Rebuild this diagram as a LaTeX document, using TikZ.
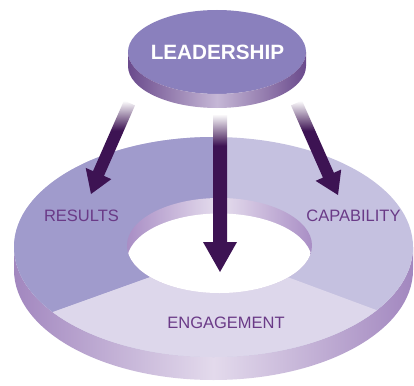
\documentclass[tikz,border=0pt]{standalone}
\usepackage{fontspec}
\setmainfont{Liberation Sans}
\usetikzlibrary{calc}

\definecolor{leadtop}{HTML}{8A80BD}
\definecolor{leadside}{HTML}{6A4A8C}
\definecolor{leadmid}{HTML}{C5B7D6}
\definecolor{resc}{HTML}{A09BCC}
\definecolor{capc}{HTML}{C5C1E0}
\definecolor{engc}{HTML}{DDD7EB}
\definecolor{ringside}{HTML}{A287BF}
\definecolor{ringmid}{HTML}{E3DAEC}
\definecolor{wallc}{HTML}{A98EC5}
\definecolor{wallmid}{HTML}{E6DEEE}
\definecolor{labelc}{HTML}{6A3A87}
\definecolor{arrowc}{HTML}{3D1353}

\pgfdeclareverticalshading{fadelong}{100bp}{color(0bp)=(arrowc); color(25bp)=(arrowc); color(65bp)=(arrowc); color(75bp)=(white); color(100bp)=(white)}
\pgfdeclareverticalshading{fadeshort}{100bp}{color(0bp)=(arrowc); color(25bp)=(arrowc); color(59bp)=(arrowc); color(75bp)=(white); color(100bp)=(white)}

\tikzset{
  leadtext/.style={inner sep=0pt, text=white, font=\fontsize{20.7}{22}\selectfont\bfseries},
  seglabel/.style={inner sep=0pt, text=labelc, font=\fontsize{16.5}{18}\selectfont},
}

\begin{document}
\begin{tikzpicture}[x=1pt,y=-1pt]
  \fill [white] (0,0) rectangle (414,385);
  \useasboundingbox (0,0) rectangle (414,385);
  % leadership disc
  \fill [leadtop] (217,52) ellipse [x radius=89, y radius=42];
  \shade [left color=leadside, right color=leadside, middle color=leadmid]
    (306,52) -- (306,66) arc [start angle=0, end angle=180, x radius=89, y radius=42]
    -- (128,52) arc [start angle=180, end angle=0, x radius=89, y radius=42] -- cycle;
  \node [leadtext] (leadership) at (217.5,52.5) {LEADERSHIP};
  % ring
  \shade [left color=ringside, right color=ringside, middle color=ringmid]
    (413,247) -- (413,270) arc [start angle=0, end angle=180, x radius=199.5, y radius=110]
    -- (14,247) arc [start angle=180, end angle=0, x radius=199.5, y radius=110] -- cycle;
  \begin{scope}
    \clip (213.5,247) ellipse [x radius=199.5, y radius=110];
    \fill [capc] (0,130) rectangle (414,360);
    \fill [resc] (220,252) -- (220,130) -- (0,130) -- (0,331) -- cycle;
    \fill [engc] (220,252) -- (0,331) -- (0,360) -- (414,360) -- (414,324) -- cycle;
  \end{scope}
  % hole
  \shade [left color=wallc, right color=wallc, middle color=wallmid]
    (219.5,245.5) ellipse [x radius=92.5, y radius=47.5];
  \begin{scope}
    \clip (219.5,245.5) ellipse [x radius=92.5, y radius=47.5];
    \fill [white] (219.5,261) ellipse [x radius=92.5, y radius=47.5];
  \end{scope}
  \node [seglabel] (results) at (81.5,216) {RESULTS};
  \node [seglabel] (capability) at (353.5,216) {CAPABILITY};
  \node [seglabel] (engagement) at (226,323) {ENGAGEMENT};
  % arrows
  \coordinate (lt) at (129.5,103);
  \coordinate (lb) at (98.5,173.5);
  \coordinate (ltip) at (91,194);
  \coordinate (mt) at (220,114);
  \coordinate (mb) at (220,242);
  \coordinate (mtip) at (220,272);
  \coordinate (rt) at (296.5,103);
  \coordinate (rb) at (328.4,175.2);
  \coordinate (rtip) at (338,195);
  \foreach \s/\b/\t/\f/\w/\h in {lt/lb/ltip/fadeshort/6/14, mt/mb/mtip/fadelong/7/17, rt/rb/rtip/fadeshort/6/14}
    \shade [shading=\f] ($(\s)!\w pt!90:(\b)$) -- ($(\b)!\w pt!-90:(\s)$) -- ($(\b)!\h pt!-90:(\s)$)
      -- (\t) -- ($(\b)!\h pt!90:(\s)$) -- ($(\b)!\w pt!90:(\s)$) -- ($(\s)!\w pt!-90:(\b)$) -- cycle;
\end{tikzpicture}
\end{document}
